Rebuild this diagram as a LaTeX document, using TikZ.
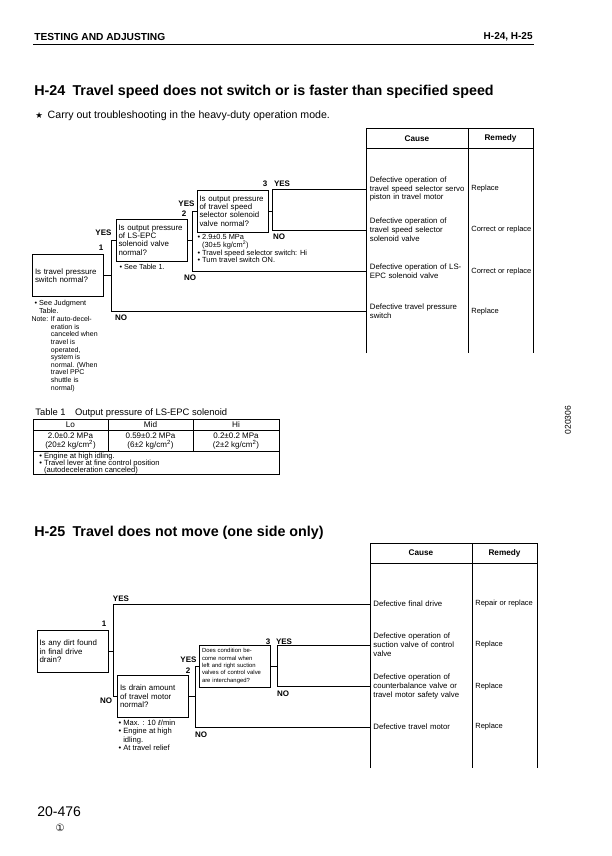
\documentclass[tikz,border=0pt]{standalone}
\usepackage{fontspec}
\setmainfont{Liberation Sans}
\newfontfamily\dejavu{DejaVu Sans}
\usetikzlibrary{positioning, calc}

\newcommand{\fsz}[2]{\fontsize{#1}{#2}\selectfont}
\newcommand{\tightlines}{\lineskiplimit-5pt\relax}

\begin{document}
\begin{tikzpicture}[x=1pt, y=-1pt, line width=0.75pt,
  qbox/.style={draw, minimum width=71pt, minimum height=42pt, text width=66pt, inner xsep=2.5pt, inner ysep=1pt, align=left, font=\fsz{7.9}{8.4}},
  cause/.style={anchor=west, text width=96pt, inner xsep=3pt, inner ysep=0pt, align=left, font=\fsz{7.8}{8.8}},
  remedy/.style={anchor=west, inner xsep=3pt, inner ysep=0pt, font=\fsz{7.5}{8.7}},
  yn/.style={inner sep=0pt, font=\bfseries\fsz{8}{8}},
  memo/.style={align=left, inner sep=0pt, font=\fsz{7.3}{7.8}},
  hd/.style={inner sep=0pt, font=\bfseries\fsz{8.2}{9}},
  title/.style={anchor=west, inner sep=0pt, font=\bfseries\fsz{14.3}{16}}]

  \useasboundingbox (0,0) rectangle (612,856);

  % page head
  \node (head) [anchor=west, inner sep=0pt, font=\bfseries\fsz{10.2}{11}] at (34,37) {TESTING AND ADJUSTING};
  \node (headr) [anchor=east, inner sep=0pt, font=\bfseries\fsz{10}{11}] at (533,37) {H-24, H-25};
  \draw [line width=1.2pt] (33,44.5) -- (534,44.5);

  % ---------------- H-24 ----------------
  \node (t24) [title] at (34,92) {H-24\enspace Travel speed does not switch or is faster than specified speed};
  \node (star) [anchor=west, inner sep=0pt, font=\fsz{10.6}{12}] at (35,116)
    {{\dejavu\fsz{8.5}{9}★}\, Carry out troubleshooting in the heavy-duty operation mode.};

  % cause / remedy table
  \draw (366.5,353) -- (366.5,128) -- (533,128) -- (533,353);
  \draw (468,128) -- (468,353);
  \draw (366.5,148) -- (533,148);
  \node (cause24) [hd] at (417,138.5) {Cause};
  \node (remedy24) [hd] at (500.5,138.5) {Remedy};

  \node (servo) [cause] at (366.5,189) {Defective operation of\\travel speed selector servo\\piston in travel motor};
  \node (selv) [cause] at (366.5,230) {Defective operation of\\travel speed selector\\solenoid valve};
  \node (epcv) [cause] at (366.5,271.5) {Defective operation of LS-\\EPC solenoid valve};
  \node (psw) [cause] at (366.5,311.5) {Defective travel pressure\\switch};
  \node (servor) [remedy] at (468,189) {Replace};
  \node (selvr) [remedy] at (468,230) {Correct or replace};
  \node (epcvr) [remedy] at (468,271.5) {Correct or replace};
  \node (pswr) [remedy] at (468,311.5) {Replace};

  % check boxes
  \node (sw) [qbox] at (68,275.5) {Is travel pressure\\switch normal?};
  \node (lsepc) [qbox] at (151.5,240) {Is output pressure\\of LS-EPC\\solenoid valve\\normal?};
  \node (sel) [qbox] at (232.5,211) {Is output pressure\\of travel speed\\selector solenoid\\valve normal?};

  \node (swm) [memo, below right=3pt and 2pt of sw.south west] {• See Judgment\\\phantom{• }Table.};
  \node (note) [memo, font=\fsz{7}{7.6}, below right=2.5pt and -3pt of swm.south west] {Note:};
  \node (notem) [memo, font=\fsz{7}{7.6}, right=2pt of note.north east, anchor=north west]
    {If auto-decel-\\eration is\\canceled when\\travel is\\operated,\\system is\\normal. (When\\travel PPC\\shuttle is\\normal)};
  \node (lsepcm) [memo, below right=2.5pt and 3.5pt of lsepc.south west] {• See Table 1.};
  \node (selm) [memo, font=\fsz{7.4}{7.8}, below right=1.5pt and 0.5pt of sel.south west]
    {• 2.9±0.5 MPa\\\phantom{• }(30±5 kg/cm\textsuperscript{2})\\• Travel speed selector switch: Hi\\• Turn travel switch ON.};

  % connectors
  \coordinate (swj) at ($(sw.east)+(7,0)$);
  \draw (sw.east) -- (swj);
  \draw (lsepc.west) -| (swj) |- (psw.west);
  \coordinate (lsepcj) at ($(lsepc.east)+(5,0)$);
  \draw (lsepc.east) -- (lsepcj);
  \draw (sel.west) -| (lsepcj) |- (epcv.west);
  \coordinate (selj) at ($(sel.east)+(4,0)$);
  \draw (sel.east) -- (selj);
  \draw (servo.west) -| (selj) |- (selv.west);

  \node (n1) [yn] at (101,248) {1};
  \node (y1) [yn] at (103.5,233) {YES};
  \node (no1) [yn] at (121,317.5) {NO};
  \node (n2) [yn] at (184,214) {2};
  \node (y2) [yn] at (186.5,204) {YES};
  \node (no2) [yn] at (190,278) {NO};
  \node (n3) [yn] at (265,184) {3};
  \node (y3) [yn] at (282,184) {YES};
  \node (no3) [yn] at (279,237) {NO};

  % table 1
  \node (tcap) [anchor=west, inner sep=0pt, font=\fsz{9.4}{10}] at (35,413.5) {Table 1\quad Output pressure of LS-EPC solenoid};
  \draw (33,419) rectangle (279,474);
  \draw (33,430) -- (279,430);
  \draw (33,451) -- (279,451);
  \draw (108,419) -- (108,451);
  \draw (193,419) -- (193,451);
  \node (lo) [inner sep=0pt, font=\fsz{8.2}{9}] at (70.5,424.5) {Lo};
  \node (mid) [inner sep=0pt, font=\fsz{8.2}{9}] at (150.5,424.5) {Mid};
  \node (hi) [inner sep=0pt, font=\fsz{8.2}{9}] at (236,424.5) {Hi};
  \node (lov) [memo, align=center, font=\fsz{8}{8.2}] at (70.5,441) {2.0±0.2 MPa\\(20±2 kg/cm\textsuperscript{2})};
  \node (midv) [memo, align=center, font=\fsz{8}{8.2}] at (150.5,441) {0.59±0.2 MPa\\(6±2 kg/cm\textsuperscript{2})};
  \node (hiv) [memo, align=center, font=\fsz{8}{8.2}] at (236,441) {0.2±0.2 MPa\\(2±2 kg/cm\textsuperscript{2})};
  \node (tnote) [memo, anchor=north west, font=\fsz{7.6}{6.8}\tightlines] at (39,452.8)
    {• Engine at high idling.\\• Travel lever at fine control position\\\phantom{• }(autodeceleration canceled)};

  \node (code) [rotate=90, inner sep=0pt, font=\fsz{8.5}{9}] at (568,420) {020306};

  % ---------------- H-25 ----------------
  \node (t25) [title] at (34,533) {H-25\enspace Travel does not move (one side only)};

  \draw (370,768) -- (370,543) -- (537,543) -- (537,768);
  \draw (472,543) -- (472,768);
  \draw (370,563) -- (537,563);
  \node (cause25) [hd] at (421,553) {Cause};
  \node (remedy25) [hd] at (504.5,553) {Remedy};

  \node (fdrive) [cause] at (370,604) {Defective final drive};
  \node (suct) [cause] at (370,645) {Defective operation of\\suction valve of control\\valve};
  \node (cbal) [cause] at (370,686.5) {Defective operation of\\counterbalance valve or\\travel motor safety valve};
  \node (tmotor) [cause] at (370,727) {Defective travel motor};
  \node (fdriver) [remedy] at (472,604) {Repair or replace};
  \node (suctr) [remedy] at (472,645) {Replace};
  \node (cbalr) [remedy] at (472,686.5) {Replace};
  \node (tmotorr) [remedy] at (472,727) {Replace};

  \node (dirt) [qbox] at (72.5,651.5) {Is any dirt found\\in final drive\\drain?};
  \node (drain) [qbox] at (153,696.5) {Is drain amount\\of travel motor\\normal?};
  \node (swap) [qbox, font=\fsz{5.9}{7.3}] at (235,666) {Does condition be-\\come normal when\\left and right suction\\valves of control valve\\are interchanged?};

  \node (drainm) [memo, font=\fsz{7.6}{8.2}, below right=2pt and 1pt of drain.south west]
    {• Max. : 10 {\dejavu\fsz{7}{8}ℓ}/min\\• Engine at high\\\phantom{• }idling.\\• At travel relief};

  \coordinate (dirtj) at ($(dirt.east)+(4.5,0)$);
  \draw (dirt.east) -- (dirtj);
  \draw (fdrive.west) -| (dirtj) |- (drain.west);
  \coordinate (drainj) at ($(drain.east)+(6,0)$);
  \draw (drain.east) -- (drainj);
  \draw (swap.west) -| (drainj) |- (tmotor.west);
  \coordinate (swapj) at ($(swap.east)+(6,0)$);
  \draw (swap.east) -- (swapj);
  \draw (suct.west) -| (swapj) |- (cbal.west);

  \node (m1) [yn] at (104,624) {1};
  \node (yy1) [yn] at (121,599) {YES};
  \node (nn1) [yn] at (106,701) {NO};
  \node (m2) [yn] at (188,671) {2};
  \node (yy2) [yn] at (188.5,660) {YES};
  \node (nn2) [yn] at (201,735) {NO};
  \node (m3) [yn] at (268,642) {3};
  \node (yy3) [yn] at (284,642) {YES};
  \node (nn3) [yn] at (283,694) {NO};

  % page foot
  \node (pg) [anchor=west, inner sep=0pt, font=\fsz{14}{15}] at (37,812) {20-476};
  \node (rev) [inner sep=0pt, font=\dejavu\fsz{10}{11}] at (60,828) {①};
\end{tikzpicture}
\end{document}
